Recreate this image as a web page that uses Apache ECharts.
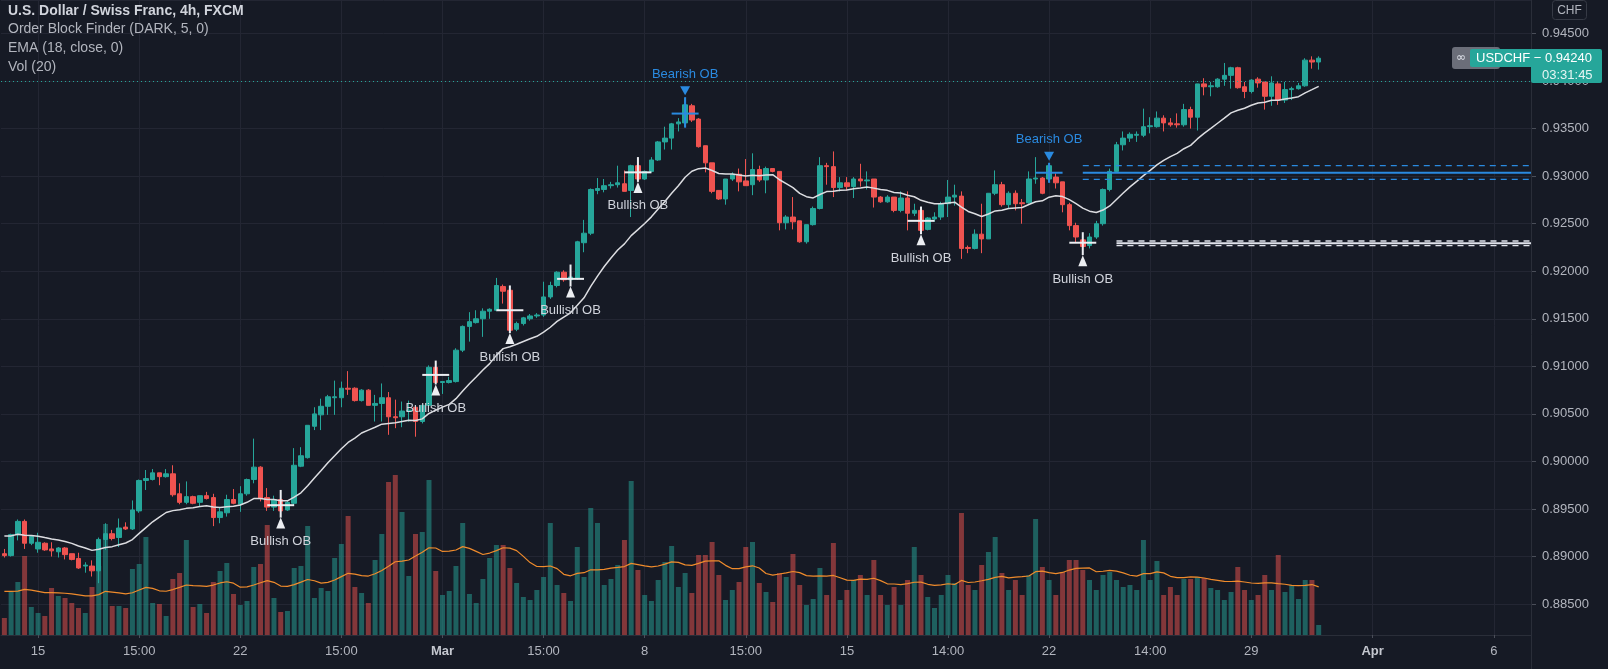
<!DOCTYPE html>
<html><head><meta charset="utf-8">
<script src="https://cdn.jsdelivr.net/npm/echarts@6/dist/echarts.min.js"></script>
<style>html,body{margin:0;padding:0;background:#161a25;}#c{width:1608px;height:669px;}</style>
</head><body><div id="c"></div>
<script>
// ---------------- DATA ----------------
const opens = [0.8903,0.8901,0.8923,0.8937,0.8914,0.8908,0.8914,0.8908,0.8905,0.8909,
0.8903,0.8898,0.8890,0.8890,0.8885,0.8918,0.8924,0.8920,0.8931,0.8929,
0.8948,0.8980,0.8981,0.8988,0.8984,0.8987,0.8966,0.8957,0.8963,0.8957,
0.8964,0.8962,0.8941,0.8946,0.8960,0.8955,0.8966,0.8981,0.8994,0.8962,
0.8952,0.8960,0.8949,0.8956,0.8995,0.9004,0.9037,0.9049,0.9058,0.9067,
0.9067,0.9077,0.9077,0.9064,0.9075,0.9059,0.9061,0.9067,0.9047,0.9047,
0.9053,0.9057,0.9042,0.9059,0.9099,0.9083,0.9083,0.9084,0.9117,0.9142,
0.9146,0.9150,0.9158,0.9159,0.9184,0.9180,0.9139,0.9145,0.9150,0.9153,
0.9154,0.9173,0.9185,0.9199,0.9191,0.9193,0.9230,0.9240,0.9285,0.9286,
0.9290,0.9291,0.9292,0.9285,0.9311,0.9297,0.9305,0.9317,0.9336,0.9340,
0.9355,0.9356,0.9374,0.9360,0.9332,0.9314,0.9285,0.9276,0.9297,0.9302,
0.9295,0.9291,0.9307,0.9296,0.9308,0.9305,0.9251,0.9257,0.9253,0.9231,
0.9249,0.9266,0.9311,0.9310,0.9288,0.9293,0.9289,0.9297,0.9295,0.9297,
0.9278,0.9273,0.9278,0.9264,0.9277,0.9261,0.9264,0.9244,0.9255,0.9257,
0.9271,0.9278,0.9279,0.9225,0.9224,0.9239,0.9234,0.9282,0.9291,0.9270,
0.9282,0.9272,0.9272,0.9297,0.9298,0.9297,0.9299,0.9294,0.9270,0.9248,
0.9233,0.9227,0.9236,0.9250,0.9286,0.9305,0.9333,0.9340,0.9343,0.9343,
0.9352,0.9352,0.9361,0.9356,0.9355,0.9354,0.9370,0.9362,0.9397,0.9394,
0.9394,0.9402,0.9406,0.9414,0.9394,0.9389,0.9402,0.9399,0.9384,0.9397,
0.9380,0.9391,0.9392,0.9395,0.9422,0.9420];
const highs = [0.8908,0.8924,0.8939,0.8939,0.8922,0.8925,0.8915,0.8915,0.8910,0.8910,
0.8903,0.8904,0.8894,0.8896,0.8920,0.8935,0.8928,0.8940,0.8936,0.8959,
0.8981,0.8991,0.8992,0.8988,0.8992,0.8996,0.8977,0.8979,0.8964,0.8964,
0.8968,0.8966,0.8952,0.8965,0.8971,0.8974,0.8982,0.9024,0.8995,0.8972,
0.8964,0.8969,0.8959,0.9014,0.9015,0.9038,0.9057,0.9066,0.9070,0.9085,
0.9084,0.9095,0.9078,0.9076,0.9076,0.9070,0.9082,0.9073,0.9065,0.9063,
0.9064,0.9059,0.9060,0.9101,0.9105,0.9084,0.9089,0.9119,0.9143,0.9157,
0.9159,0.9161,0.9161,0.9193,0.9186,0.9184,0.9147,0.9152,0.9155,0.9156,
0.9189,0.9189,0.9200,0.9201,0.9206,0.9232,0.9254,0.9287,0.9298,0.9297,
0.9294,0.9311,0.9306,0.9312,0.9319,0.9306,0.9320,0.9337,0.9352,0.9356,
0.9361,0.9382,0.9376,0.9361,0.9332,0.9314,0.9285,0.9297,0.9304,0.9308,
0.9318,0.9324,0.9311,0.9310,0.9308,0.9305,0.9259,0.9278,0.9253,0.9249,
0.9268,0.9320,0.9314,0.9326,0.9299,0.9299,0.9299,0.9313,0.9305,0.9297,
0.9279,0.9280,0.9278,0.9284,0.9284,0.9271,0.9267,0.9257,0.9262,0.9273,
0.9296,0.9291,0.9284,0.9227,0.9244,0.9271,0.9282,0.9306,0.9294,0.9284,
0.9285,0.9276,0.9305,0.9320,0.9299,0.9313,0.9303,0.9294,0.9272,0.9251,
0.9240,0.9240,0.9253,0.9287,0.9308,0.9336,0.9347,0.9346,0.9347,0.9371,
0.9362,0.9368,0.9364,0.9361,0.9366,0.9376,0.9373,0.9397,0.9403,0.9399,
0.9403,0.9419,0.9415,0.9415,0.9399,0.9402,0.9404,0.9399,0.9405,0.9399,
0.9399,0.9394,0.9398,0.9424,0.9426,0.9426];
const lows = [0.8899,0.8900,0.8917,0.8908,0.8912,0.8904,0.8906,0.8900,0.8899,0.8897,
0.8896,0.8887,0.8883,0.8879,0.8872,0.8907,0.8917,0.8910,0.8928,0.8928,
0.8946,0.8970,0.8980,0.8975,0.8983,0.8963,0.8955,0.8955,0.8955,0.8953,
0.8960,0.8932,0.8935,0.8942,0.8955,0.8947,0.8964,0.8977,0.8958,0.8948,
0.8948,0.8942,0.8948,0.8954,0.8994,0.9003,0.9033,0.9033,0.9049,0.9049,
0.9057,0.9070,0.9063,0.9063,0.9059,0.9042,0.9042,0.9028,0.9035,0.9036,
0.9042,0.9026,0.9040,0.9057,0.9082,0.9071,0.9082,0.9083,0.9115,0.9126,
0.9145,0.9131,0.9150,0.9158,0.9166,0.9136,0.9137,0.9143,0.9148,0.9151,
0.9152,0.9171,0.9183,0.9189,0.9185,0.9191,0.9220,0.9238,0.9281,0.9283,
0.9287,0.9288,0.9284,0.9257,0.9295,0.9296,0.9304,0.9316,0.9328,0.9328,
0.9347,0.9352,0.9357,0.9330,0.9304,0.9282,0.9275,0.9270,0.9295,0.9284,
0.9290,0.9280,0.9294,0.9282,0.9304,0.9243,0.9244,0.9244,0.9230,0.9229,
0.9248,0.9265,0.9291,0.9278,0.9284,0.9285,0.9277,0.9289,0.9286,0.9267,
0.9272,0.9272,0.9262,0.9262,0.9243,0.9258,0.9240,0.9243,0.9252,0.9254,
0.9257,0.9269,0.9213,0.9219,0.9223,0.9219,0.9234,0.9280,0.9268,0.9266,
0.9264,0.9250,0.9271,0.9292,0.9281,0.9294,0.9287,0.9262,0.9243,0.9230,
0.9218,0.9224,0.9234,0.9248,0.9284,0.9304,0.9327,0.9336,0.9336,0.9341,
0.9345,0.9351,0.9347,0.9352,0.9351,0.9352,0.9350,0.9348,0.9385,0.9384,
0.9393,0.9395,0.9392,0.9392,0.9382,0.9387,0.9393,0.9370,0.9374,0.9375,
0.9377,0.9380,0.9391,0.9394,0.9413,0.9412];
const closes = [0.8901,0.8923,0.8937,0.8914,0.8921,0.8915,0.8907,0.8906,0.8909,0.8902,
0.8897,0.8888,0.8891,0.8885,0.8918,0.8924,0.8919,0.8930,0.8929,0.8949,
0.8980,0.8982,0.8988,0.8984,0.8987,0.8965,0.8957,0.8963,0.8956,0.8964,
0.8961,0.8941,0.8947,0.8960,0.8956,0.8966,0.8981,0.8994,0.8961,0.8952,
0.8960,0.8948,0.8957,0.8996,0.9006,0.9038,0.9050,0.9058,0.9068,0.9068,
0.9077,0.9076,0.9064,0.9075,0.9059,0.9061,0.9067,0.9047,0.9046,0.9053,
0.9054,0.9042,0.9059,0.9099,0.9083,0.9084,0.9085,0.9117,0.9142,0.9147,
0.9150,0.9158,0.9160,0.9185,0.9179,0.9138,0.9145,0.9151,0.9153,0.9154,
0.9173,0.9185,0.9199,0.9191,0.9194,0.9231,0.9240,0.9286,0.9287,0.9290,
0.9291,0.9293,0.9284,0.9311,0.9297,0.9305,0.9317,0.9336,0.9340,0.9355,
0.9357,0.9375,0.9359,0.9331,0.9314,0.9284,0.9276,0.9297,0.9302,0.9294,
0.9290,0.9307,0.9296,0.9308,0.9305,0.9251,0.9257,0.9252,0.9231,0.9249,
0.9266,0.9311,0.9310,0.9288,0.9293,0.9289,0.9297,0.9295,0.9296,0.9278,
0.9273,0.9278,0.9264,0.9277,0.9261,0.9264,0.9243,0.9256,0.9257,0.9271,
0.9278,0.9280,0.9224,0.9224,0.9239,0.9234,0.9282,0.9291,0.9270,0.9282,
0.9271,0.9271,0.9297,0.9298,0.9282,0.9311,0.9293,0.9270,0.9248,0.9236,
0.9226,0.9236,0.9250,0.9286,0.9305,0.9333,0.9340,0.9344,0.9344,0.9352,
0.9353,0.9361,0.9356,0.9354,0.9354,0.9370,0.9362,0.9397,0.9394,0.9395,
0.9402,0.9406,0.9414,0.9393,0.9389,0.9401,0.9398,0.9384,0.9398,0.9380,
0.9391,0.9392,0.9395,0.9422,0.9420,0.9424];
const volumes = [17,44,53,79,28,22,19,47,39,37,
32,27,22,48,69,111,29,29,27,66,
71,98,32,31,19,56,62,95,28,31,
22,53,64,72,41,30,34,68,71,110,
37,23,24,67,69,109,37,47,44,77,
91,119,48,42,32,75,101,153,160,123,
59,101,103,155,64,40,44,69,112,41,
32,56,77,90,90,67,52,38,35,45,
58,112,50,42,34,88,58,127,112,50,
56,70,95,154,65,40,34,55,73,89,
48,62,42,80,80,93,60,35,45,53,
88,93,52,43,33,62,58,81,50,30,
36,67,40,92,35,45,55,60,40,75,
40,30,48,30,55,88,60,38,27,40,
60,52,122,50,45,70,83,98,62,45,
55,40,60,116,68,55,40,63,75,75,
65,55,45,60,63,55,48,50,45,95,
55,74,40,48,40,56,56,58,57,47,
45,35,43,68,45,35,40,60,45,80,
43,50,36,55,55,10];
const tickIdx  = [5,20,35,50,65,80,95,110,125,140,155,170,185,203,221];
const tickText = ['15','15:00','22','15:00','Mar','15:00','8','15:00','15','14:00','22','14:00','29','Apr','6'];
const priceTickMin = 0.885, priceTickMax = 0.945;
const bullOBIdx   = [41,64,75,84,94,136,160];
const bullOBLevel = [0.8954,0.9091,0.9159,0.9192,0.9304,0.9253,0.9230];
const bearOBIdx   = [101,155];
const bearOBLevel = [0.93658,0.93036];
const bearZone = {start:160, levels:[0.93110,0.93036,0.92967]};
const bullZone = {start:165, levels:[0.92318,0.92294,0.92269]};
const lastPrice = 0.94240;
const emaSeed = 0.8924, volMaSeed = 45;
const NCAT = 227;

// ---------------- DERIVED ----------------
const cats = []; for (let i = 0; i < NCAT; i++) cats.push(String(i));
const tickMap = {}; tickIdx.forEach((k, i) => tickMap[k] = tickText[i]);
const months = {'Mar':1,'Apr':1};
const candle = opens.map((o, i) => [o, closes[i], lows[i], highs[i]]);
const ema = []; { let e = emaSeed; const a = 2 / 19; closes.forEach(c => { e = a * c + (1 - a) * e; ema.push(+e.toFixed(6)); }); }
const volMa = volumes.map((v, i) => { let s = 0; for (let j = i - 19; j <= i; j++) s += (j < 0 ? volMaSeed : volumes[j]); return +(s / 20).toFixed(2); });
const volData = volumes.map((v, i) => ({value: v, itemStyle: {color: closes[i] >= opens[i] ? 'rgba(38,166,154,0.5)' : 'rgba(239,83,80,0.5)'}}));
const obData = [];
bullOBIdx.forEach((k, i) => obData.push([k, bullOBLevel[i], highs[k], lows[k], 1]));
bearOBIdx.forEach((k, i) => obData.push([k, bearOBLevel[i], highs[k], lows[k], -1]));
const zoneData = [];
bearZone.levels.forEach((v, i) => zoneData.push([bearZone.start, v, i === 1 ? 0 : 1, 0]));
bullZone.levels.forEach((v, i) => zoneData.push([bullZone.start, v, i === 1 ? 0 : 1, 1]));

const FONT = '"Liberation Sans", Arial, sans-serif';
const BLUE = '#2a8ae0';
// price scale: 0.005 per 47.55 px, 0.945 at y=33.5
const PX_PER_UNIT = 9510;
const priceMax = 0.945 + 33.5 / PX_PER_UNIT;
const priceMin = 0.88;
const priceGridH = (priceMax - priceMin) * PX_PER_UNIT;

function renderOB(params, api) {
  const k = api.value(0), lvl = api.value(1), hi = api.value(2), lo = api.value(3), dir = api.value(4);
  const c = api.coord([k, lvl]);
  const top = api.coord([k, hi])[1], bot = api.coord([k, lo])[1];
  const w = api.size([1, 0])[0];
  const x = c[0];
  const col = dir > 0 ? '#eceef2' : BLUE;
  const ch = [
    {type: 'line', shape: {x1: x - 2 * w, y1: c[1], x2: x + 2 * w, y2: c[1]}, style: {stroke: col, lineWidth: 2}},
    {type: 'line', shape: {x1: x, y1: top - 1, x2: x, y2: bot + 1}, style: {stroke: col, lineWidth: 2}}
  ];
  if (dir > 0) {
    ch.push({type: 'polygon', shape: {points: [[x, bot + 1], [x - 4.5, bot + 12], [x + 4.5, bot + 12]]}, style: {fill: col}});
    ch.push({type: 'text', style: {text: 'Bullish OB', x: x, y: bot + 25, align: 'center', verticalAlign: 'middle', fill: '#d1d4dc', font: '13px ' + FONT}});
  } else {
    ch.push({type: 'polygon', shape: {points: [[x, top - 3], [x - 5, top - 12], [x + 5, top - 12]]}, style: {fill: col}});
    ch.push({type: 'text', style: {text: 'Bearish OB', x: x, y: top - 24, align: 'center', verticalAlign: 'middle', fill: BLUE, font: '13px ' + FONT}});
  }
  return {type: 'group', children: ch};
}
function renderZone(params, api) {
  const k = api.value(0), v = api.value(1), dashed = api.value(2), ci = api.value(3);
  const p = api.coord([k, v]);
  const right = params.coordSys.x + params.coordSys.width;
  return {type: 'line', shape: {x1: p[0], y1: p[1], x2: right, y2: p[1]},
    style: {stroke: ci ? '#e0e3eb' : BLUE, lineWidth: dashed ? 1.3 : 2, lineDash: dashed ? [6, 5] : null}};
}

const tickSet = new Set(tickIdx);
const GRIDC = '#232633';
const chart = echarts.init(document.getElementById('c'), null, {renderer: 'canvas'});
chart.setOption({
  backgroundColor: '#161a25',
  animation: false,
  textStyle: {fontFamily: FONT},
  grid: [
    {left: 1, width: 1530, top: 0, height: priceGridH},
    {left: 1, width: 1530, top: 435, height: 200}
  ],
  xAxis: [
    {type: 'category', gridIndex: 0, data: cats, boundaryGap: true,
     axisLine: {show: false}, axisTick: {show: false}, axisLabel: {show: false},
     splitLine: {show: true, alignWithLabel: true, interval: (i) => tickSet.has(i), lineStyle: {color: GRIDC, width: 1}}},
    {type: 'category', gridIndex: 1, data: cats, boundaryGap: true, z: 60,
     axisLine: {show: true, lineStyle: {color: '#2a2e39'}},
     axisTick: {show: true, alignWithLabel: true, interval: (i) => tickSet.has(i), length: 3, lineStyle: {color: '#4a4e59'}},
     axisLabel: {show: true, interval: (i) => tickSet.has(i), margin: 10, color: '#b2b5be', fontSize: 13, fontFamily: FONT,
       formatter: (v, i) => { const t = tickMap[i] || ''; return months[t] ? '{b|' + t + '}' : t; },
       rich: {b: {fontWeight: 'bold', color: '#c4c7cf', fontSize: 13, fontFamily: FONT}}},
     splitLine: {show: false}}
  ],
  yAxis: [
    {type: 'value', gridIndex: 0, position: 'right', min: priceMin, max: priceMax, interval: 0.005,
     axisLine: {show: false},
     axisTick: {show: true, length: 5, lineStyle: {color: '#4a4e59'}},
     axisLabel: {margin: 11, color: '#b2b5be', fontSize: 13, fontFamily: FONT, showMaxLabel: false,
       formatter: (v) => (v < priceTickMin - 1e-6 || v > priceTickMax + 1e-6) ? '' : v.toFixed(5)},
     splitLine: {show: true, lineStyle: {color: GRIDC, width: 1}}},
    {type: 'value', gridIndex: 1, min: 0, max: 200, show: false, splitLine: {show: false}}
  ],
  series: [
    {type: 'bar', name: 'Vol', xAxisIndex: 1, yAxisIndex: 1, data: volData, barWidth: 5, z: 1},
    {type: 'line', name: 'VolMA', xAxisIndex: 1, yAxisIndex: 1, data: volMa, showSymbol: false, symbol: 'none',
     lineStyle: {color: '#ef8b2c', width: 1.2}, z: 2},
    {type: 'candlestick', name: 'USDCHF', xAxisIndex: 0, yAxisIndex: 0, data: candle, barWidth: 5, z: 3,
     itemStyle: {color: '#26a69a', color0: '#ef5350', borderColor: '#26a69a', borderColor0: '#ef5350', borderWidth: 1},
     markLine: {silent: true, symbol: 'none', label: {show: false},
       lineStyle: {color: '#26a69a', type: [1, 3], width: 1}, data: [{yAxis: lastPrice}]}},
    {type: 'line', name: 'EMA', xAxisIndex: 0, yAxisIndex: 0, data: ema, showSymbol: false, symbol: 'none',
     lineStyle: {color: '#dcdde1', width: 1.5}, z: 4},
    {type: 'custom', name: 'zones', xAxisIndex: 0, yAxisIndex: 0, data: zoneData, renderItem: renderZone, z: 5, silent: true},
    {type: 'custom', name: 'ob', xAxisIndex: 0, yAxisIndex: 0, data: obData, renderItem: renderOB, z: 6, silent: true, clip: false}
  ],
  graphic: [
    {type: 'rect', z: 50, shape: {x: 0, y: 636, width: 1608, height: 33}, style: {fill: '#161a25'}},
    {type: 'line', z: 51, shape: {x1: 1531.5, y1: 0, x2: 1531.5, y2: 669}, style: {stroke: '#2a2e39', lineWidth: 1}},
    {type: 'text', z: 52, style: {text: 'U.S. Dollar / Swiss Franc, 4h, FXCM', x: 8, y: 11, verticalAlign: 'middle', fill: '#d1d4dc', font: 'bold 14px ' + FONT}},
    {type: 'text', z: 52, style: {text: 'Order Block Finder (DARK, 5, 0)', x: 8, y: 29.5, verticalAlign: 'middle', fill: '#b2b5be', font: '14px ' + FONT}},
    {type: 'text', z: 52, style: {text: 'EMA (18, close, 0)', x: 8, y: 48.5, verticalAlign: 'middle', fill: '#b2b5be', font: '14px ' + FONT}},
    {type: 'text', z: 52, style: {text: 'Vol (20)', x: 8, y: 67, verticalAlign: 'middle', fill: '#b2b5be', font: '14px ' + FONT}},
    {type: 'rect', z: 52, shape: {x: 1552.5, y: 0.5, width: 34, height: 19, r: 3}, style: {fill: 'none', stroke: '#363a45', lineWidth: 1}},
    {type: 'text', z: 53, style: {text: 'CHF', x: 1569.5, y: 10.5, align: 'center', verticalAlign: 'middle', fill: '#b2b5be', font: '12px ' + FONT}},
    {type: 'rect', z: 54, shape: {x: 1452, y: 47, width: 48, height: 22, r: 3}, style: {fill: '#6b6e79'}},
    {type: 'text', z: 55, style: {text: '∞', x: 1461, y: 57.5, align: 'center', verticalAlign: 'middle', fill: '#e0e3eb', font: '12px "DejaVu Sans"'}},
    {type: 'rect', z: 56, shape: {x: 1470, y: 49, width: 132, height: 18, r: [2, 2, 0, 2]}, style: {fill: '#26a69a'}},
    {type: 'rect', z: 56, shape: {x: 1531, y: 66, width: 71, height: 17, r: [0, 0, 2, 2]}, style: {fill: '#26a69a'}},
    {type: 'text', z: 57, style: {text: 'USDCHF − 0.94240', x: 1476, y: 58.5, verticalAlign: 'middle', fill: '#ffffff', font: '13px ' + FONT}},
    {type: 'text', z: 57, style: {text: '03:31:45', x: 1542, y: 75, verticalAlign: 'middle', fill: '#e6f5f3', font: '13px ' + FONT}}
  ]
});
</script>
</body></html>
